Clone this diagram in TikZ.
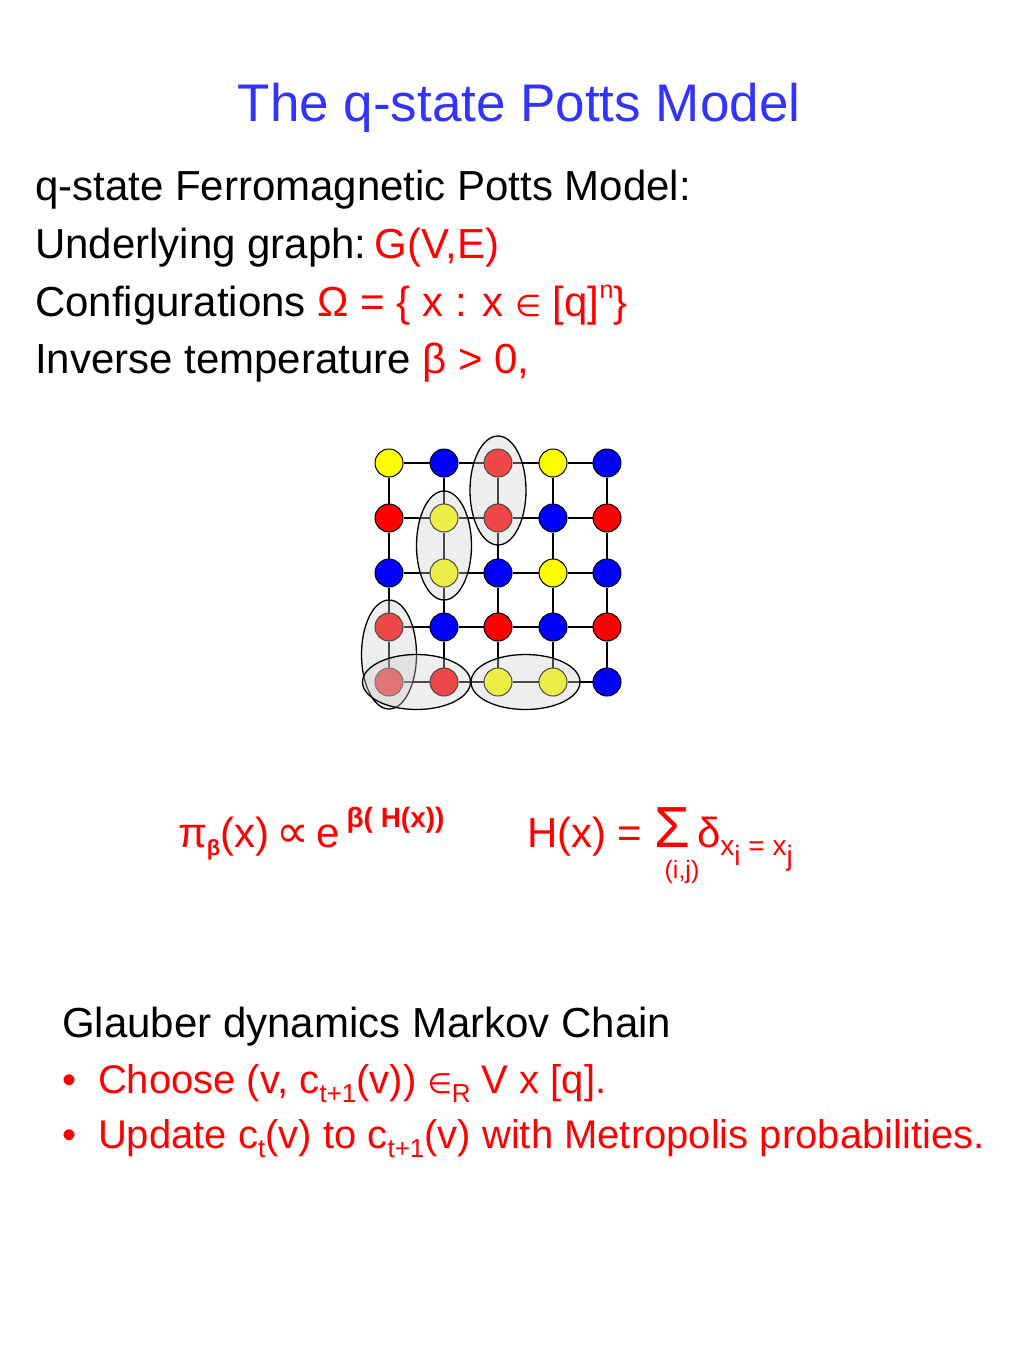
\documentclass[tikz,border=0pt]{standalone}
\usepackage{fontspec}
\setmainfont{Liberation Sans}
\newfontfamily\dv{DejaVu Sans}
\usetikzlibrary{shapes.geometric,calc}
\definecolor{tred}{RGB}{255,0,0}
\definecolor{tblue}{RGB}{51,51,255}
\definecolor{cr}{RGB}{255,0,0}
\definecolor{cy}{RGB}{255,255,0}
\definecolor{cb}{RGB}{0,0,255}
\newcommand{\fs}[1]{\fontsize{#1}{#1}\selectfont}
\newcommand{\sub}[1]{\raisebox{-9pt}{\fs{26}#1}}
\tikzset{
  txt/.style={anchor=base west, inner sep=0pt, outer sep=0pt, font=\fs{42}},
  btxt/.style={anchor=base west, inner sep=0pt, outer sep=0pt, font=\fs{40}, text=tred},
  site/.style={circle, draw=black, line width=1pt, minimum size=28pt, inner sep=0pt},
  bond/.style={draw=black, line width=1.5pt},
  cluster/.style={ellipse, draw=black, line width=1.3pt, fill={rgb,255:red,205;green,205;blue,205}, fill opacity=0.35, inner sep=0pt},
}
\begin{document}
\begin{tikzpicture}[x=1pt,y=-1pt]
\useasboundingbox (0,0) rectangle (1024,1365);
% title
\node[anchor=base, inner sep=0pt, font=\fs{53}, text=tblue] (title) at (519,121) {The q-state Potts Model};
% definitions
\node[txt] (l1) at (35,200) {q-state Ferromagnetic Potts Model:};
\node[txt] (l2) at (35,258) {Underlying graph:\hspace{8pt}\textcolor{tred}{G(V,E)}};
\node[txt] (l3) at (35,316) {Configurations \textcolor{tred}{Ω = \{ x : x {\dv\fs{30}∈} [q]\raisebox{18pt}{\fs{25}n}\}}};
\node[txt] (l4) at (35,373) {Inverse temperature \textcolor{tred}{β > 0,}};
% grid
\def\xs{{389,444,498,553,607}}
\def\ys{{463,518,573,627,682}}
\foreach \row [count=\r] in {{cy,cb,cr,cy,cb},{cr,cy,cr,cb,cr},{cb,cy,cb,cy,cb},{cr,cb,cr,cb,cr},{cr,cr,cy,cy,cb}}{
  \foreach \col [count=\c] in \row {
    \pgfmathsetmacro{\px}{\xs[\c-1]}
    \pgfmathsetmacro{\py}{\ys[\r-1]}
    \node[site, fill=\col] (n-\r-\c) at (\px,\py) {};
  }
}
\foreach \r in {1,...,5}{
  \foreach \c [evaluate=\c as \cn using int(\c+1)] in {1,...,4}{
    \draw[bond] (n-\r-\c) -- (n-\r-\cn);
  }
}
\foreach \c in {1,...,5}{
  \foreach \r [evaluate=\r as \rn using int(\r+1)] in {1,...,4}{
    \draw[bond] (n-\r-\c) -- (n-\rn-\c);
  }
}
% clusters
\node[cluster, minimum width=56pt, minimum height=109pt] (e1) at ($(n-1-3)!0.5!(n-2-3)$) {};
\node[cluster, minimum width=55pt, minimum height=109pt] (e2) at ($(n-2-2)!0.5!(n-3-2)$) {};
\node[cluster, minimum width=55pt, minimum height=109pt] (e3) at ($(n-4-1)!0.5!(n-5-1)$) {};
\node[cluster, minimum width=108pt, minimum height=55pt] (e4) at ($(n-5-1)!0.5!(n-5-2)$) {};
\node[cluster, minimum width=109pt, minimum height=55pt] (e5) at ($(n-5-3)!0.5!(n-5-4)$) {};
% formulas
\node[txt, text=tred] (pi) at (178,847) {π\raisebox{-8pt}{\fs{22}\bfseries β}(x)\,{\dv\fs{46}∝}\,e\,\raisebox{20pt}{\fs{28}\bfseries β( H(x))}};
\node[txt, text=tred] (ham) at (527,847) {H(x) = {\fs{58}Σ}\,δ\raisebox{-8pt}{\fs{28}x\raisebox{-10pt}{i} = x\raisebox{-10pt}{j}}};
\node[anchor=base, inner sep=0pt, font=\fs{25}, text=tred] (ij) at (682,878) {(i,j)};
% Glauber
\node[txt] (g) at (62,1037) {Glauber dynamics Markov Chain};
\node[btxt] (b1) at (62,1093) {•};
\node[btxt] (t1) at (98,1093) {Choose (v, c\sub{t+1}(v)) {\dv\fs{28}∈}\sub{R} V x [q].};
\node[btxt] (b2) at (62,1148) {•};
\node[btxt] (t2) at (98,1148) {Update c\sub{t}(v) to c\sub{t+1}(v) with Metropolis probabilities.};
\end{tikzpicture}
\end{document}
